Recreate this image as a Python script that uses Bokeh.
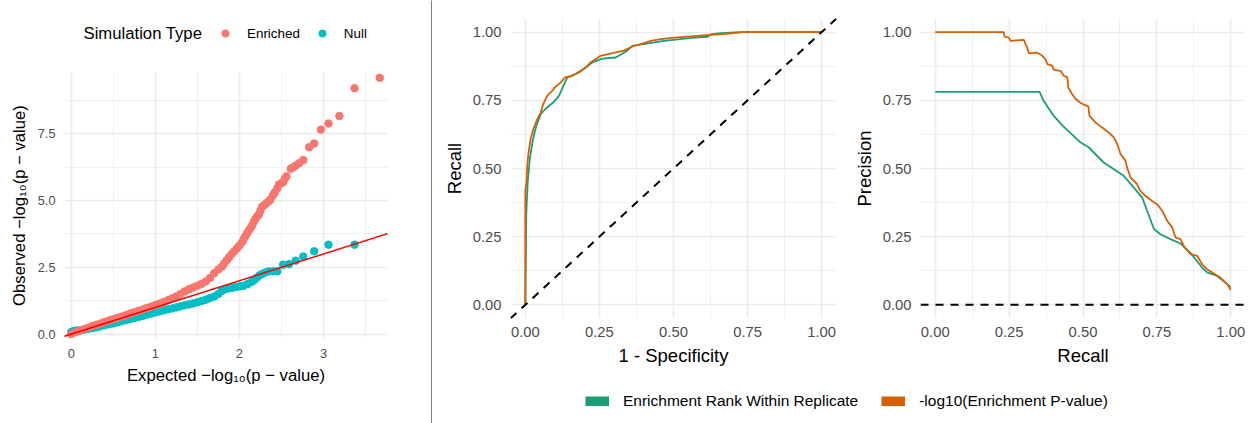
from bokeh.plotting import figure
from bokeh.models import Range1d, FixedTicker, Slope, Span, Legend, LegendItem, Label
from bokeh.layouts import row, column
from bokeh.embed import file_html
from bokeh.resources import INLINE

FONT = "Liberation Sans"
GRID = "#EBEBEB"

# ---------------- data ----------------
sim_types = ["Enriched", "Null"]
sim_colors = ["#F8766D", "#00BFC4"]
legend_title = "Simulation Type"

qq_enriched_expected = [0.00, 0.05, 0.10, 0.15, 0.20, 0.25, 0.30, 0.35, 0.40, 0.45, 0.50, 0.55, 0.60, 0.65,
                        0.70, 0.75, 0.80, 0.85, 0.90, 0.95, 1.00, 1.05, 1.10, 1.15, 1.20, 1.25, 1.30, 1.35,
                        1.40, 1.45, 1.50, 1.55, 1.60, 1.65, 1.70, 1.75, 1.79, 1.82, 1.85, 1.88, 1.91, 1.94,
                        1.97, 2.00, 2.03, 2.05, 2.07, 2.09, 2.11, 2.13, 2.15, 2.17, 2.19, 2.21, 2.23, 2.25,
                        2.27, 2.30, 2.32, 2.35, 2.37, 2.40, 2.42, 2.45, 2.47, 2.50, 2.52, 2.54, 2.56, 2.61,
                        2.64, 2.67, 2.71, 2.76, 2.83, 2.89, 2.97, 3.06, 3.19, 3.37, 3.67]
qq_enriched_observed = [0.00, 0.07, 0.12, 0.18, 0.24, 0.30, 0.35, 0.40, 0.46, 0.51, 0.56, 0.61, 0.66, 0.71,
                        0.77, 0.82, 0.87, 0.92, 0.98, 1.03, 1.09, 1.14, 1.20, 1.27, 1.34, 1.41, 1.50, 1.60,
                        1.68, 1.75, 1.81, 1.88, 1.97, 2.10, 2.28, 2.42, 2.52, 2.65, 2.77, 2.89, 3.00, 3.10,
                        3.21, 3.32, 3.43, 3.55, 3.66, 3.77, 3.87, 3.96, 4.06, 4.20, 4.31, 4.40, 4.47, 4.62,
                        4.77, 4.84, 4.90, 4.98, 5.04, 5.20, 5.30, 5.45, 5.60, 5.65, 5.69, 5.82, 5.91, 6.19,
                        6.25, 6.31, 6.40, 6.52, 7.00, 7.14, 7.66, 7.89, 8.17, 9.21, 9.60]

qq_null_expected = [0.00, 0.03, 0.06, 0.10, 0.15, 0.20, 0.25, 0.30, 0.35, 0.40, 0.45, 0.50, 0.55, 0.60,
                    0.65, 0.70, 0.75, 0.80, 0.85, 0.90, 0.95, 1.00, 1.05, 1.10, 1.15, 1.20, 1.25, 1.30,
                    1.35, 1.40, 1.45, 1.50, 1.55, 1.60, 1.65, 1.70, 1.75, 1.79, 1.83, 1.87, 1.90, 1.93,
                    1.97, 2.01, 2.05, 2.10, 2.15, 2.18, 2.21, 2.24, 2.27, 2.31, 2.35, 2.40, 2.45, 2.52,
                    2.59, 2.67, 2.76, 2.89, 3.06, 3.37]
qq_null_observed = [0.08, 0.11, 0.13, 0.14, 0.16, 0.19, 0.22, 0.25, 0.29, 0.33, 0.37, 0.40, 0.44, 0.48,
                    0.52, 0.56, 0.60, 0.64, 0.68, 0.73, 0.77, 0.81, 0.85, 0.89, 0.93, 0.96, 1.00, 1.04,
                    1.08, 1.11, 1.15, 1.19, 1.24, 1.29, 1.35, 1.41, 1.50, 1.62, 1.68, 1.71, 1.73, 1.75,
                    1.77, 1.79, 1.81, 1.88, 1.96, 2.04, 2.12, 2.20, 2.25, 2.31, 2.35, 2.35, 2.35, 2.60,
                    2.62, 2.75, 2.91, 3.10, 3.35, 3.35]

method_names = ["Enrichment Rank Within Replicate", "-log10(Enrichment P-value)"]
method_colors = ["#1B9E77", "#D95F02"]

roc_rank_fpr = [0.0, 0.002, 0.003, 0.008, 0.015, 0.026, 0.037, 0.052, 0.069, 0.097, 0.114, 0.131, 0.142,
                0.181, 0.226, 0.26, 0.305, 0.344, 0.361, 0.468, 0.57, 0.615, 0.626, 0.66, 0.727, 1.0]
roc_rank_tpr = [0.0, 0.2, 0.326, 0.45, 0.534, 0.608, 0.656, 0.699, 0.72, 0.745, 0.767, 0.809, 0.834,
                0.852, 0.889, 0.903, 0.907, 0.932, 0.95, 0.968, 0.98, 0.983, 0.992, 0.996, 1.0, 1.0]

roc_pval_fpr = [0.0, 0.0, 0.004, 0.006, 0.01, 0.018, 0.029, 0.04, 0.052, 0.06, 0.074, 0.091, 0.102, 0.119,
                0.134, 0.159, 0.187, 0.204, 0.22, 0.254, 0.294, 0.333, 0.367, 0.389, 0.423, 0.457, 0.502,
                0.603, 0.688, 0.733, 1.0]
roc_pval_tpr = [0.0, 0.42, 0.45, 0.5, 0.55, 0.61, 0.65, 0.68, 0.705, 0.735, 0.767, 0.785, 0.80, 0.815,
                0.834, 0.84, 0.858, 0.87, 0.889, 0.913, 0.923, 0.932, 0.95, 0.956, 0.968, 0.974, 0.98,
                0.988, 0.995, 1.0, 1.0]

pr_rank_recall = [0.0, 0.353, 0.367, 0.385, 0.401, 0.43, 0.458, 0.49, 0.52, 0.57, 0.638, 0.672, 0.7,
                  0.717, 0.74, 0.762, 0.796, 0.83, 0.864, 0.903, 0.92, 0.954, 0.988, 1.0]
pr_rank_precision = [0.781, 0.781, 0.748, 0.718, 0.693, 0.658, 0.63, 0.597, 0.577, 0.522, 0.473, 0.43,
                     0.394, 0.345, 0.278, 0.259, 0.241, 0.225, 0.19, 0.137, 0.119, 0.106, 0.076, 0.064]

pr_pval_recall = [0.0, 0.232, 0.234, 0.249, 0.255, 0.3, 0.305, 0.311, 0.317, 0.345, 0.362, 0.373, 0.379,
                  0.396, 0.401, 0.424, 0.435, 0.447, 0.45, 0.462, 0.475, 0.49, 0.505, 0.518, 0.522, 0.542,
                  0.565, 0.587, 0.604, 0.616, 0.627, 0.644, 0.649, 0.661, 0.683, 0.694, 0.711, 0.734,
                  0.751, 0.768, 0.785, 0.802, 0.813, 0.83, 0.841, 0.864, 0.886, 0.903, 0.92, 0.943,
                  0.965, 0.988, 1.0]
pr_pval_precision = [1.0, 1.0, 0.984, 0.98, 0.968, 0.972, 0.958, 0.944, 0.922, 0.925, 0.913, 0.901, 0.883,
                     0.877, 0.862, 0.858, 0.84, 0.834, 0.797, 0.775, 0.755, 0.742, 0.733, 0.728, 0.693,
                     0.669, 0.65, 0.632, 0.614, 0.589, 0.553, 0.528, 0.504, 0.467, 0.443, 0.418, 0.4,
                     0.381, 0.369, 0.345, 0.308, 0.284, 0.247, 0.241, 0.216, 0.186, 0.18, 0.149, 0.131,
                     0.115, 0.1, 0.076, 0.054]

qq_x_ticks = [0, 1, 2, 3]
qq_x_labels = ["0", "1", "2", "3"]
qq_x_minor = [0.5, 1.5, 2.5, 3.5]
qq_y_ticks = [0, 2.5, 5, 7.5]
qq_y_labels = ["0.0", "2.5", "5.0", "7.5"]
qq_y_minor = [1.25, 3.75, 6.25, 8.75]
unit_ticks = [0, 0.25, 0.5, 0.75, 1]
unit_labels = ["0.00", "0.25", "0.50", "0.75", "1.00"]
unit_minor = [0.125, 0.375, 0.625, 0.875]


def style(p, xt, xl, xm, yt, yl, ym, tick_px, title_px, xstand, xlab, ystand, ylab):
    for ax, t, l, m, st, ls in ((p.xaxis[0], xt, xl, xm, xstand, xlab),
                                (p.yaxis[0], yt, yl, ym, ystand, ylab)):
        ax.ticker = FixedTicker(ticks=t, minor_ticks=m)
        ax.major_label_overrides = {v: s for v, s in zip(t, l)}
        ax.axis_line_color = None
        ax.major_tick_line_color = None
        ax.minor_tick_line_color = None
        ax.major_tick_out = 0
        ax.major_tick_in = 0
        ax.minor_tick_out = 0
        ax.minor_tick_in = 0
        ax.major_label_standoff = st
        ax.axis_label_standoff = ls
        ax.major_label_text_font = FONT
        ax.major_label_text_font_size = tick_px
        ax.major_label_text_color = "#4D4D4D"
        ax.axis_label_text_font = FONT
        ax.axis_label_text_font_size = title_px
        ax.axis_label_text_font_style = "normal"
        ax.axis_label_text_color = "black"
    for g in (p.xgrid[0], p.ygrid[0]):
        g.grid_line_color = GRID
        g.grid_line_width = 1.6
        g.minor_grid_line_color = GRID
        g.minor_grid_line_width = 0.8
    p.outline_line_color = None
    p.background_fill_color = "white"
    p.border_fill_color = "white"


def blank(width, height):
    # legend-only canvas; its ranges are placed away from the data so the
    # proxy glyphs used for the legend keys are not visible
    f = figure(width=width, height=height, x_axis_type=None, y_axis_type=None,
               x_range=Range1d(100, 101), y_range=Range1d(100, 101), min_border=0,
               toolbar_location=None, output_backend="svg")
    f.outline_line_color = None
    f.grid.visible = False
    return f


# ---------------- panel 1: QQ plot ----------------
p1 = figure(width=431, height=365, x_range=Range1d(-0.08, 3.762), y_range=Range1d(-0.165, 9.8),
            min_border_left=64, min_border_right=44, min_border_top=14, min_border_bottom=85,
            toolbar_location=None, output_backend="svg")
style(p1, qq_x_ticks, qq_x_labels, qq_x_minor, qq_y_ticks, qq_y_labels, qq_y_minor,
      "12.8px", "16.7px", 10, 5, 9, 6)
p1.xaxis.axis_label = "Expected −log₁₀(p − value)"
p1.yaxis.axis_label = "Observed −log₁₀(p − value)"
p1.scatter(qq_null_expected, qq_null_observed, size=7.5, color=sim_colors[1])
p1.scatter(qq_enriched_expected, qq_enriched_observed, size=7.5, color=sim_colors[0])
p1.add_layout(Slope(gradient=1, y_intercept=0, line_color="red", line_width=1.5))

# legend canvas above panel 1 (its frame is aligned with panel 1's frame, which starts at x=64)
leg1 = blank(431, 58)
r_en = leg1.scatter(qq_enriched_expected, qq_enriched_observed, size=7, color=sim_colors[0])
r_nu = leg1.scatter(qq_null_expected, qq_null_observed, size=7, color=sim_colors[1])
lg1 = Legend(items=[LegendItem(label=sim_types[0], renderers=[r_en]),
                    LegendItem(label=sim_types[1], renderers=[r_nu])],
             orientation="horizontal", location=(152, 16), padding=0, margin=0, spacing=13,
             label_standoff=13, glyph_width=18, glyph_height=18, label_height=18,
             border_line_color=None, background_fill_alpha=0,
             label_text_font=FONT, label_text_font_size="13.4px", label_text_color="black")
leg1.add_layout(lg1)
leg1.add_layout(Label(x=19, y=25, x_units="screen", y_units="screen", text=legend_title,
                      text_font=FONT, text_font_size="16.7px", text_color="black",
                      text_baseline="middle", text_align="left"))

# ---------------- separator ----------------
sep = figure(width=1, height=423, x_axis_type=None, y_axis_type=None, min_border=0,
             x_range=Range1d(0, 1), y_range=Range1d(0, 1),
             toolbar_location=None, output_backend="svg")
sep.background_fill_color = "black"
sep.border_fill_color = "black"
sep.outline_line_color = None
sep.grid.visible = False

# ---------------- panel 2: ROC ----------------
p2 = figure(width=406, height=380, x_range=Range1d(-0.05, 1.05), y_range=Range1d(-0.05, 1.05),
            min_border_left=78, min_border_right=2, min_border_top=18, min_border_bottom=62,
            toolbar_location=None, output_backend="svg")
style(p2, unit_ticks, unit_labels, unit_minor, unit_ticks, unit_labels, unit_minor,
      "14.8px", "18.5px", 8, 5, 9, 5)
p2.xaxis.axis_label = "1 - Specificity"
p2.yaxis.axis_label = "Recall"
p2.add_layout(Slope(gradient=1, y_intercept=0, line_color="black", line_width=2, line_dash="8 7"))
p2.line(roc_rank_fpr, roc_rank_tpr, line_color=method_colors[0], line_width=1.8)
p2.line(roc_pval_fpr, roc_pval_tpr, line_color=method_colors[1], line_width=1.8)

# ---------------- panel 3: PR ----------------
p3 = figure(width=413, height=380, x_range=Range1d(-0.05, 1.05), y_range=Range1d(-0.05, 1.05),
            min_border_left=82, min_border_right=6, min_border_top=18, min_border_bottom=62,
            toolbar_location=None, output_backend="svg")
style(p3, unit_ticks, unit_labels, unit_minor, unit_ticks, unit_labels, unit_minor,
      "14.8px", "18.5px", 8, 5, 9, 5)
p3.xaxis.axis_label = "Recall"
p3.yaxis.axis_label = "Precision"
p3.add_layout(Span(location=0, dimension="width", line_color="black", line_width=2, line_dash="8 7"))
p3.line(pr_rank_recall, pr_rank_precision, line_color=method_colors[0], line_width=1.8)
p3.line(pr_pval_recall, pr_pval_precision, line_color=method_colors[1], line_width=1.8)

# ---------------- shared legend ----------------
leg2 = blank(819, 43)
g_rank = leg2.line(roc_rank_fpr, roc_rank_tpr, line_color=method_colors[0], line_width=10)
g_pval = leg2.line(roc_pval_fpr, roc_pval_tpr, line_color=method_colors[1], line_width=10)
lg2 = Legend(items=[LegendItem(label=method_names[0], renderers=[g_rank]),
                    LegendItem(label=method_names[1], renderers=[g_pval])],
             orientation="horizontal", location=(153, 13), padding=0, margin=0,
             spacing=23, label_standoff=14, glyph_width=24, glyph_height=10, label_height=18,
             border_line_color=None, background_fill_alpha=0,
             label_text_font=FONT, label_text_font_size="15.5px", label_text_color="black")
leg2.add_layout(lg2)

layout = row(column(leg1, p1), sep, column(row(p2, p3), leg2))

open("out.html", "w").write(file_html(layout, INLINE))
